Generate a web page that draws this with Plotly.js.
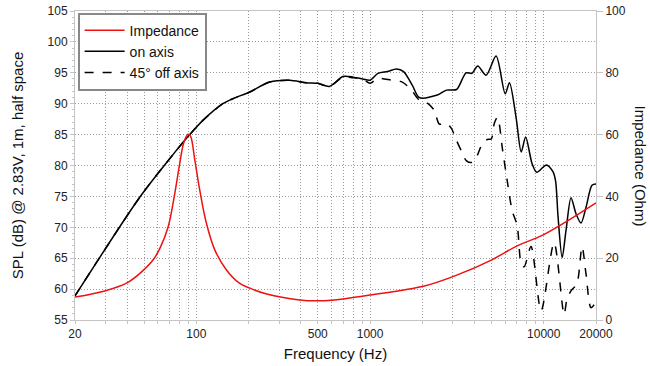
<!DOCTYPE html>
<html>
<head>
<meta charset="utf-8">
<script src="https://cdn.plot.ly/plotly-3.0.1.min.js"></script>
<style>html,body{margin:0;padding:0;background:#fff;}#chart{width:650px;height:366px;}</style>
</head>
<body>
<div id="chart"></div>
<script>
// Impedance (Ohm) vs frequency
const impFreq = [20, 29.7, 39.8, 47.3, 56.4, 62, 68.8, 75.1, 80.2, 84.9, 89.6, 92.5, 97.9, 104.5, 114.2, 127.6, 149, 177, 203, 254, 393, 490, 600, 1000, 2050, 3180, 4990, 7030, 9660, 13100, 20000];
const impVal  = [7.4, 9.4, 12.0, 15.1, 19.5, 23.5, 30.2, 41.0, 50.7, 57.7, 60.1, 59.5, 51.8, 42.1, 31.3, 22.7, 16.2, 11.9, 10.3, 8.4, 6.5, 6.2, 6.4, 8.1, 11.0, 14.6, 19.4, 24.0, 27.2, 31.4, 37.9];

// SPL on axis (dB)
const onFreq = [20, 47.3, 73.5, 91.6, 109, 142, 162, 203, 264, 344, 429, 500, 584, 697, 800, 908, 1000, 1110, 1260, 1420, 1560, 1750, 1920, 2440, 2760, 3150, 3570, 3860, 4170, 4660, 5320, 6000, 6350, 6930, 7420, 7870, 8570, 9120, 10360, 11300, 11700, 12100, 12770, 13440, 14360, 15340, 16400, 17510, 18960, 20000];
const onSpl  = [58.9, 74.9, 81.8, 85.0, 87.3, 90.0, 90.8, 91.9, 93.5, 93.8, 93.4, 93.3, 92.8, 94.4, 94.3, 94.0, 93.8, 94.9, 95.2, 95.6, 95.2, 93.0, 91.0, 91.4, 92.2, 92.3, 95.0, 94.9, 96.1, 94.6, 97.7, 91.6, 93.4, 87.8, 82.2, 84.6, 80.3, 78.9, 80.1, 79.0, 77.5, 71.6, 65.1, 69.5, 74.8, 72.2, 70.7, 73.2, 76.8, 77.0];

// SPL 45 degrees off axis (dB)
const offFreq = [20, 47.3, 73.5, 91.6, 109, 142, 162, 203, 264, 344, 429, 500, 584, 697, 800, 908, 1000, 1110, 1330, 1535, 1730, 1920, 2140, 2345, 2505, 2750, 2940, 3140, 3350, 3580, 3875, 4140, 4425, 4730, 4990, 5190, 5400, 5540, 5770, 6160, 6580, 7030, 7420, 7710, 8450, 9660, 11470, 13100, 13620, 14360, 15540, 16620, 17510, 18720, 20000];
const offSpl  = [58.9, 74.9, 81.8, 85.0, 87.3, 90.0, 90.8, 91.9, 93.5, 93.8, 93.4, 93.3, 92.8, 94.3, 94.2, 94.0, 93.3, 94.1, 93.8, 93.5, 92.2, 90.6, 90.1, 88.9, 86.7, 86.8, 86.0, 84.1, 82.4, 80.8, 80.5, 81.6, 83.5, 84.2, 84.3, 86.8, 87.8, 86.8, 82.9, 77.6, 72.7, 70.3, 64.1, 63.6, 66.9, 56.5, 67.5, 55.9, 58.4, 59.7, 60.9, 66.9, 62.5, 57.0, 57.9];

// Axis ticks
const xGrid = [20,30,40,50,60,70,80,90,100,200,300,400,500,600,700,800,900,1000,2000,3000,4000,5000,6000,7000,8000,9000,10000,20000];
const xLabeled = [20, 100, 500, 1000, 10000, 20000];
const xTickText = xGrid.map(v => xLabeled.includes(v) ? String(v) : '');

const font = 'Liberation Sans, Arial, sans-serif';
const gridDash = '1px,2px';
const traces = [
  {x: impFreq, y: impVal, yaxis: 'y2', name: 'Impedance', mode: 'lines', line: {color: '#ee1111', width: 1.5, shape: 'spline', smoothing: 1}},
  {x: onFreq, y: onSpl, name: 'on axis', mode: 'lines', line: {color: '#000', width: 1.5, shape: 'spline', smoothing: 0.8}},
  {x: offFreq, y: offSpl, name: '45° off axis', mode: 'lines', line: {color: '#000', width: 1.5, dash: 'dash', shape: 'spline', smoothing: 0.8}}
];
const layout = {
  width: 650, height: 366,
  margin: {l: 75, r: 54, t: 11, b: 46},
  paper_bgcolor: '#fff', plot_bgcolor: '#fff',
  font: {family: font, color: '#222', size: 12},
  showlegend: true,
  legend: {x: 0.005, y: 0.995, xanchor: 'left', yanchor: 'top', bgcolor: '#fff', bordercolor: '#888', borderwidth: 2,
           font: {size: 14, family: font, color: '#111'}, tracegroupgap: 0, itemwidth: 40},
  xaxis: {
    type: 'log', range: [Math.log10(20), Math.log10(20000)],
    tickmode: 'array', tickvals: xGrid, ticktext: xTickText,
    showgrid: true, gridcolor: '#999', griddash: gridDash, gridwidth: 1,
    showline: true, linecolor: '#c4c4c4', linewidth: 1, mirror: true,
    ticks: 'outside', ticklen: 3, tickcolor: '#c4c4c4',
    zeroline: false, tickfont: {size: 12},
    title: {text: 'Frequency (Hz)', font: {size: 15, color: '#111'}, standoff: 8}
  },
  yaxis: {
    range: [55, 105], tickmode: 'linear', tick0: 55, dtick: 5,
    showgrid: true, gridcolor: '#999', griddash: gridDash, gridwidth: 1,
    showline: true, linecolor: '#c4c4c4', linewidth: 1,
    ticks: 'outside', ticklen: 4, tickcolor: '#c4c4c4',
    minor: {dtick: 1, ticks: 'outside', ticklen: 2, tickcolor: '#c4c4c4', showgrid: false},
    zeroline: false, tickfont: {size: 12},
    title: {text: 'SPL (dB) @ 2.83V, 1m, half space', font: {size: 15, color: '#111'}, standoff: 20}
  },
  yaxis2: {
    overlaying: 'y', side: 'right', range: [0, 100], tickmode: 'linear', tick0: 0, dtick: 20,
    showgrid: false, showline: true, linecolor: '#c4c4c4', linewidth: 1,
    ticks: 'outside', ticklen: 6, tickcolor: '#c4c4c4', zeroline: false, tickfont: {size: 12}
  },
  annotations: [{
    text: 'Impedance (Ohm)', xref: 'paper', yref: 'paper', x: 1, xanchor: 'center', xshift: 44, y: 0.5,
    showarrow: false, textangle: 90, font: {size: 15, color: '#111', family: font}
  }]
};
Plotly.newPlot('chart', traces, layout, {displayModeBar: false, staticPlot: true});
</script>
</body>
</html>
